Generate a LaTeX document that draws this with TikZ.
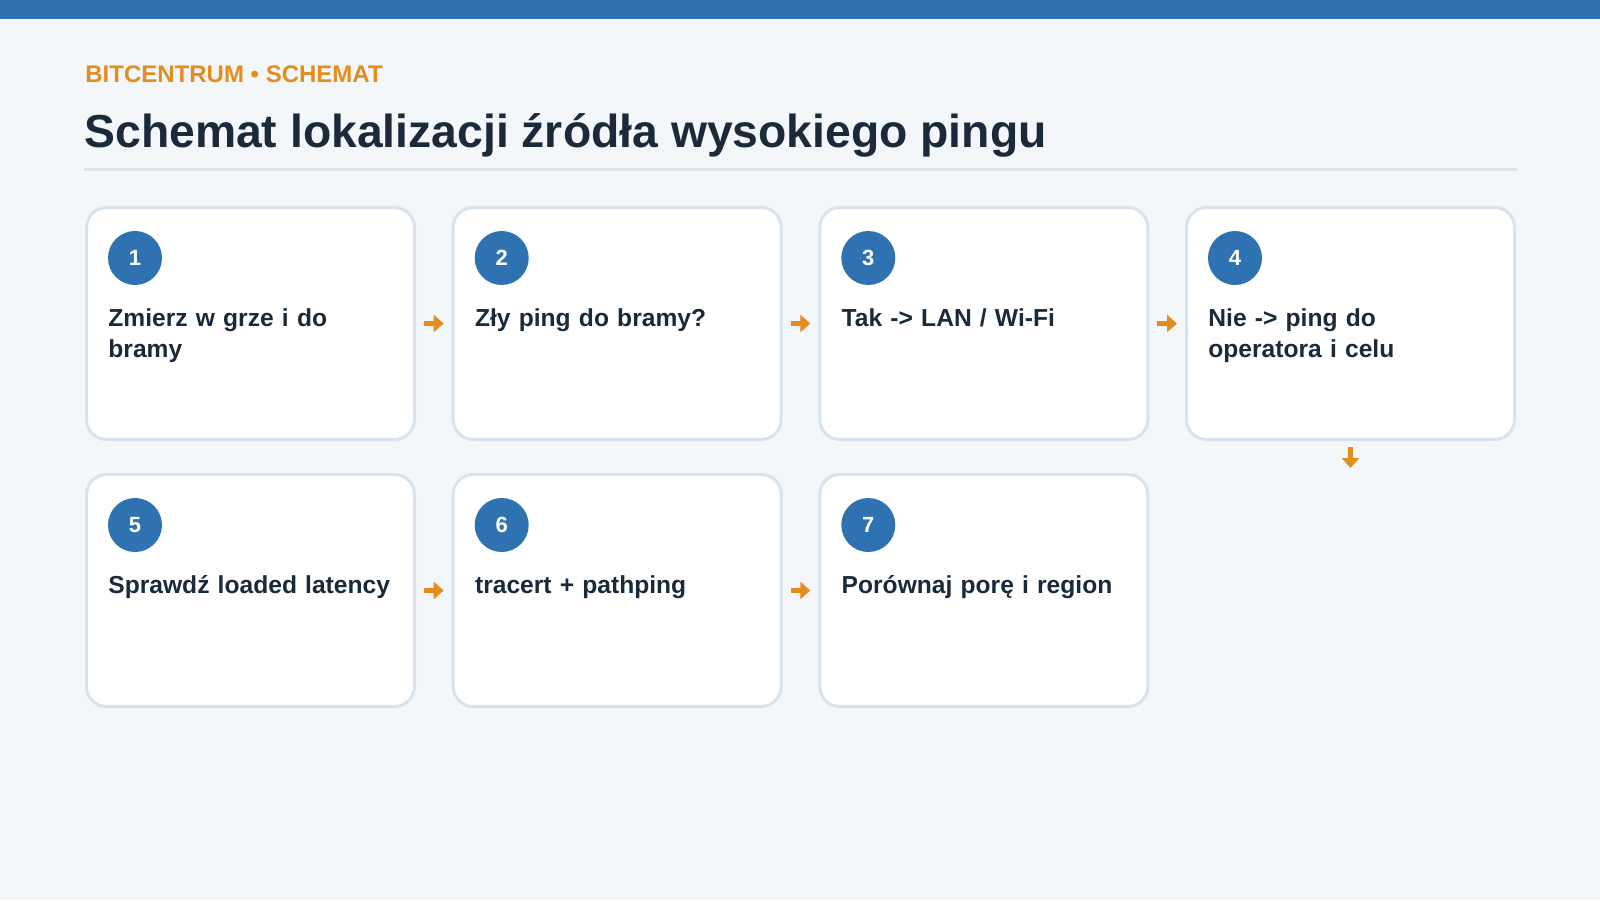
\documentclass[tikz,border=0pt]{standalone}
\usepackage{fontspec}
\setmainfont{Liberation Sans}
\usetikzlibrary{positioning,calc,arrows.meta}
\definecolor{topbar}{HTML}{2E72B2}
\definecolor{pagebg}{HTML}{F3F7FA}
\definecolor{accent}{HTML}{E58C1F}
\definecolor{ink}{HTML}{1B2A3A}
\definecolor{cardline}{HTML}{D9E3EE}
\tikzset{
card/.style={draw=cardline, fill=white, line width=1.5pt, rounded corners=10pt,
  minimum width=164pt, minimum height=116pt, anchor=north west},
badge/.style={circle, fill=topbar, text=white, minimum size=27pt, inner sep=0pt,
  font=\bfseries\fontsize{11}{13}\selectfont},
cardtext/.style={anchor=base west, inner sep=0pt, text width=150pt, align=left,
  text=ink, font=\bfseries\fontsize{12.3}{15.5}\selectfont},
flow/.style={accent, line width=2.5pt, shorten <=4pt, shorten >=4pt,
  -{Triangle[width=8.5pt,length=5pt]}}
}
\newcommand{\stepcard}[5]{
\node[card] (#1) at (#2, #3) {};
\node[badge] (#1num) at ($(#1.north west) + (50, 52)$) {#4};
\node[cardtext] (#1txt) at ($(#1.north west) + (23, 120)$) {#5};
}

\begin{document}
\begin{tikzpicture}[x=0.5pt, y=-0.5pt]
\fill[pagebg] (0, 0) rectangle (1600, 900);
\fill[topbar] (0, 0) rectangle (1600, 19);
\node[anchor=base west, inner sep=0pt, text=accent,
  font=\bfseries\fontsize{12}{14}\selectfont] (kicker) at (85, 82)
  {BITCENTRUM • SCHEMAT};
\node[anchor=base west, inner sep=0pt, text=ink,
  font=\bfseries\fontsize{23.15}{28}\selectfont] (title) at (84, 147)
  {Schemat lokalizacji źródła wysokiego pingu};
\draw[cardline, line width=1.5pt] (84, 169) -- (1517, 169);
% first row
\stepcard{b1}{85}{206}{1}{Zmierz w grze i do\\bramy}
\stepcard{b2}{451.7}{206}{2}{Zły ping do bramy?}
\stepcard{b3}{818.3}{206}{3}{Tak -> LAN / Wi-Fi}
\stepcard{b4}{1185}{206}{4}{Nie -> ping do\\operatora i celu}
% second row
\stepcard{b5}{85}{473}{5}{Sprawdź loaded latency}
\stepcard{b6}{451.7}{473}{6}{tracert + pathping}
\stepcard{b7}{818.3}{473}{7}{Porównaj porę i region}
\draw[flow] (b1) -- (b2);
\draw[flow] (b2) -- (b3);
\draw[flow] (b3) -- (b4);
\draw[flow] (b5) -- (b6);
\draw[flow] (b6) -- (b7);
\coordinate (down4) at ($(b4.south) + (0, 27)$);
\draw[flow, shorten <=3pt, shorten >=0pt] (b4.south) -- (down4);
\end{tikzpicture}
\end{document}
